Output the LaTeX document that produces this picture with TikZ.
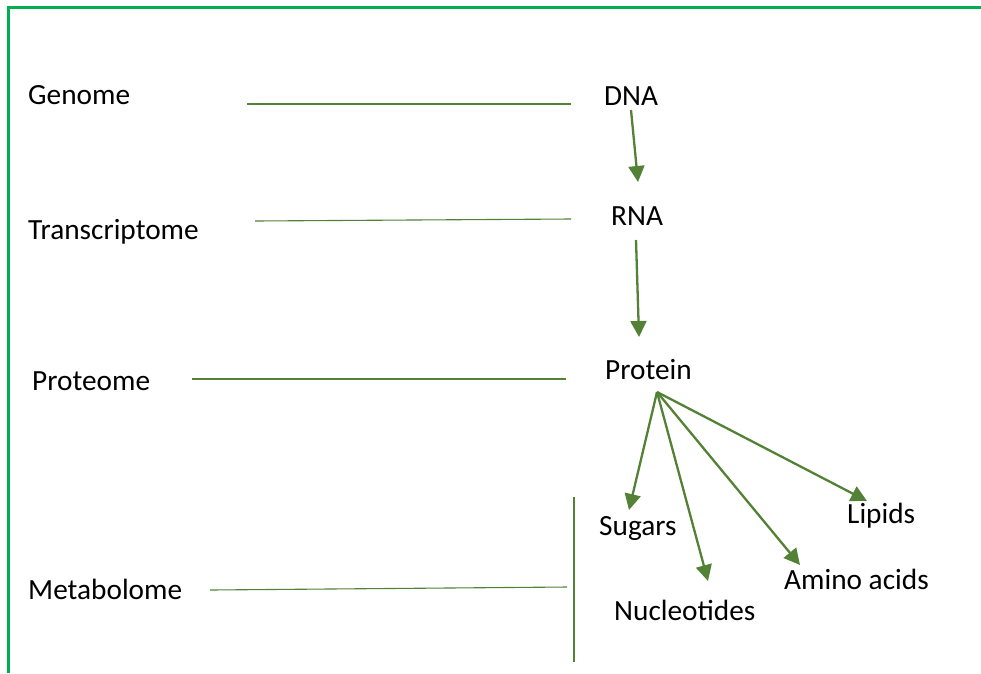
\documentclass[tikz,border=0pt]{standalone}
\usepackage{fontspec}
\setmainfont{Carlito}
\usetikzlibrary{arrows.meta}
\definecolor{frame}{HTML}{00B050}
\definecolor{leaf}{HTML}{538135}
\begin{document}
\begin{tikzpicture}[x=1pt,y=-1pt,
  lbl/.style={anchor=base west,inner sep=0pt,font=\fontsize{29.3}{35}\selectfont},
  thin/.style={draw=leaf,line width=1.1pt},
  arr/.style={draw=leaf,line width=2.3pt,-{Triangle[length=16pt,width=16pt]}}]
\useasboundingbox (0,0) rectangle (981,673);
\draw[frame,line width=3pt] (8,673) -- (8,7) -- (981,7);
% left labels
\node[lbl] (genome) at (28,104) {Genome};
\node[lbl] (transc) at (28,239) {Transcriptome};
\node[lbl] (proteome) at (32,390) {Proteome};
\node[lbl] (metab) at (28,599) {Metabolome};
% right labels
\node[lbl] (dna) at (604,105) {DNA};
\node[lbl] (rna) at (611,225) {RNA};
\node[lbl] (protein) at (605,379) {Protein};
\node[lbl] (sugars) at (599,535) {Sugars};
\node[lbl] (nucl) at (614,620) {Nucleotides};
\node[lbl] (amino) at (784,589) {Amino acids};
\node[lbl] (lipids) at (847,523) {Lipids};
% horizontal lines
\coordinate (g1) at (247,104); \coordinate (g2) at (571,104);
\coordinate (t1) at (255,221); \coordinate (t2) at (571,219);
\coordinate (p1) at (192,379); \coordinate (p2) at (566,379);
\coordinate (m1) at (210,590); \coordinate (m2) at (567,587);
\coordinate (v1) at (574,497); \coordinate (v2) at (574,662);
\draw[thin] (g1) -- (g2);
\draw[thin] (t1) -- (t2);
\draw[thin] (p1) -- (p2);
\draw[thin] (m1) -- (m2);
\draw[thin] (v1) -- (v2);
% arrows
\coordinate (d0) at (631,110); \coordinate (d1) at (638,182);
\coordinate (r0) at (636,240); \coordinate (r1) at (639,337);
\draw[arr] (d0) -- (d1);
\draw[arr] (r0) -- (r1);
\coordinate (po) at (657,392);
\coordinate (ts) at (629,510);
\coordinate (tn) at (708,581);
\coordinate (ta) at (800,565);
\coordinate (tl) at (867,501);
\draw[arr] (po) -- (ts);
\draw[arr] (po) -- (tn);
\draw[arr] (po) -- (ta);
\draw[arr] (po) -- (tl);
\end{tikzpicture}
\end{document}
